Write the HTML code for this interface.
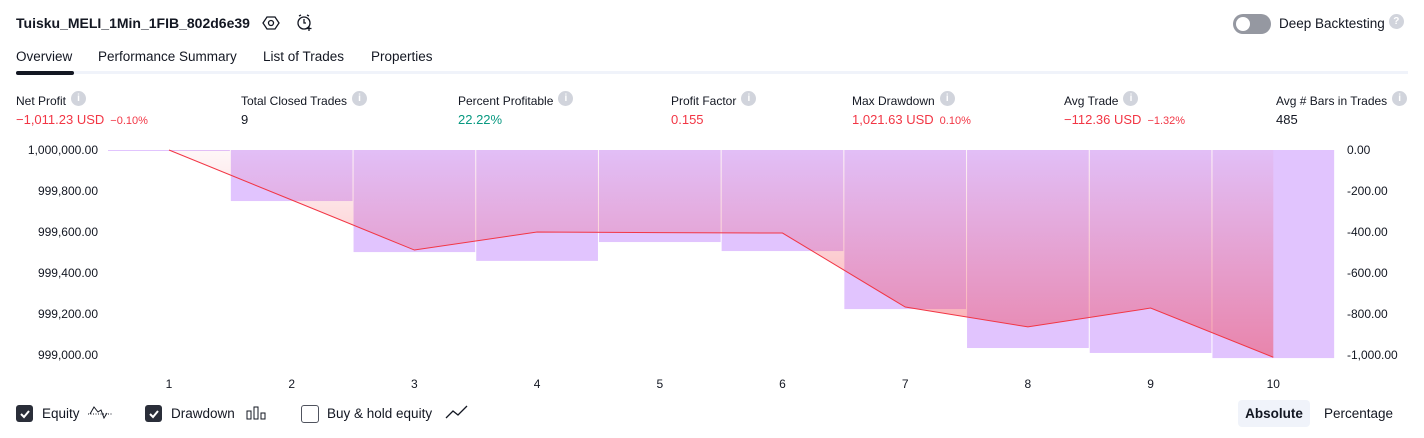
<!DOCTYPE html>
<html><head><meta charset="utf-8">
<style>
body{margin:0;width:1424px;height:438px;background:#fff;font-family:"Liberation Sans",sans-serif;color:#131722;position:relative;overflow:hidden}
.abs{position:absolute;white-space:nowrap}
.info{display:inline-block;width:15px;height:15px;border-radius:50%;background:#d1d4dc;color:#fff;font-size:10px;text-align:center;line-height:15px;font-weight:bold;vertical-align:1px;margin-left:5px;position:relative;top:-3px}
.lbl{font-size:12px;color:#131722}
.val{font-size:13px}
.red{color:#f23645}.grn{color:#089981}
.sm{font-size:11px;margin-left:6px}
.tab{font-size:13.5px;top:49px}
.cb{position:absolute;width:17px;height:17px;border-radius:3px;top:405px}
.cb.on{background:#2a2e39}
.cb.off{border:1.5px solid #50535e;box-sizing:border-box;width:18px;height:18px}
.ax{font-size:12px;font-family:"Liberation Sans",sans-serif}
</style></head><body>
<div class="abs" style="left:16px;top:15px;font-size:14px;font-weight:bold">Tuisku_MELI_1Min_1FIB_802d6e39</div>
<svg class="abs" style="left:262px;top:14px" width="18" height="18" viewBox="0 0 18 18"><path d="M5 3h8l4 6-4 6H5L1 9z" fill="none" stroke="#131722" stroke-width="1.3"/><circle cx="9" cy="9" r="2.5" fill="none" stroke="#131722" stroke-width="1.3"/></svg>
<svg class="abs" style="left:296px;top:13px" width="18" height="20" viewBox="0 0 18 20"><circle cx="8" cy="10" r="6" fill="none" stroke="#131722" stroke-width="1.3"/><path d="M8 6v4h2M3 3l2-1M13 3l-2-1M13 13v5M10.5 15.5h5" stroke="#131722" stroke-width="1.3" fill="none"/></svg>
<div class="abs" style="left:1233px;top:14px;width:38px;height:20px;border-radius:10px;background:#9598a1"><div style="position:absolute;left:3px;top:3px;width:14px;height:14px;border-radius:50%;background:#fff"></div></div>
<div class="abs" style="left:1279px;top:16px;font-size:13.5px">Deep Backtesting<span class="info" style="margin-left:4px">?</span></div>

<div class="abs tab" style="left:16px">Overview</div>
<div class="abs tab" style="left:98px">Performance Summary</div>
<div class="abs tab" style="left:263px">List of Trades</div>
<div class="abs tab" style="left:371px">Properties</div>
<div class="abs" style="left:16px;top:71px;width:1392px;height:3px;background:#f0f3fa"></div>
<div class="abs" style="left:16px;top:71px;width:58px;height:4px;border-radius:2px;background:#131722"></div>

<div class="abs" style="left:16px;top:94px"><div class="lbl">Net Profit<span class="info">i</span></div><div class="val red" style="margin-top:3px">−1,011.23 USD<span class="sm">−0.10%</span></div></div>
<div class="abs" style="left:241px;top:94px"><div class="lbl">Total Closed Trades<span class="info">i</span></div><div class="val" style="margin-top:3px">9</div></div>
<div class="abs" style="left:458px;top:94px"><div class="lbl">Percent Profitable<span class="info">i</span></div><div class="val grn" style="margin-top:3px">22.22%</div></div>
<div class="abs" style="left:671px;top:94px"><div class="lbl">Profit Factor<span class="info">i</span></div><div class="val red" style="margin-top:3px">0.155</div></div>
<div class="abs" style="left:852px;top:94px"><div class="lbl">Max Drawdown<span class="info">i</span></div><div class="val red" style="margin-top:3px">1,021.63 USD<span class="sm">0.10%</span></div></div>
<div class="abs" style="left:1064px;top:94px"><div class="lbl">Avg Trade<span class="info">i</span></div><div class="val red" style="margin-top:3px">−112.36 USD<span class="sm">−1.32%</span></div></div>
<div class="abs" style="left:1276px;top:94px"><div class="lbl">Avg # Bars in Trades<span class="info">i</span></div><div class="val" style="margin-top:3px">485</div></div>

<svg class="abs" id="chart" style="left:0;top:140px" width="1424" height="255"></svg>

<div class="cb on" style="left:16px"><svg width="17" height="17"><path d="M5 9l3 3 5-6" stroke="#fff" stroke-width="2" fill="none"/></svg></div>
<div class="abs" style="left:42px;top:406px;font-size:13.5px">Equity</div>
<svg class="abs" style="left:87px;top:404px" width="26" height="18"><path d="M1 10h24" stroke="#131722" stroke-dasharray="1 1.5"/><path d="M3 10l4-7 4 5 3-2 3 8 3-5" stroke="#131722" fill="none"/></svg>
<div class="cb on" style="left:145px"><svg width="17" height="17"><path d="M5 9l3 3 5-6" stroke="#fff" stroke-width="2" fill="none"/></svg></div>
<div class="abs" style="left:171px;top:406px;font-size:13.5px">Drawdown</div>
<svg class="abs" style="left:246px;top:405px" width="20" height="16"><rect x="1" y="6" width="4" height="8" fill="none" stroke="#131722"/><rect x="8" y="2" width="4" height="12" fill="none" stroke="#131722"/><rect x="15" y="8" width="4" height="6" fill="none" stroke="#131722"/></svg>
<div class="cb off" style="left:301px"></div>
<div class="abs" style="left:327px;top:406px;font-size:13.5px">Buy &amp; hold equity</div>
<svg class="abs" style="left:445px;top:404px" width="24" height="16"><path d="M1 14l7-7 5 4 9-9" stroke="#131722" stroke-width="1.3" fill="none"/></svg>
<div class="abs" style="left:1238px;top:400px;width:72px;height:27px;background:#f0f3fa;border-radius:4px;font-size:13.5px;font-weight:bold;line-height:27px;text-align:center">Absolute</div>
<div class="abs" style="left:1324px;top:406px;font-size:13.5px">Percentage</div>

<script>
const categories = ["1","2","3","4","5","6","7","8","9","10"];
const equity = [1000000, 999756, 999512, 999600, 999597, 999595, 999234, 999137, 999229, 998989];
const drawdown = [0, -249, -498, -541, -449, -493, -776, -966, -990, -1015];
const leftTicks = [1000000, 999800, 999600, 999400, 999200, 999000];
const rightTicks = [0, -200, -400, -600, -800, -1000];

const svg = document.getElementById('chart');
const NS = 'http://www.w3.org/2000/svg';
const X0 = 169, DX = 122.7, TOP = 10, PPU = 0.205;
function xs(i){ return X0 + i*DX; }
function yEq(v){ return TOP + (1000000 - v)*PPU; }
function yDd(v){ return TOP + (0 - v)*PPU; }
function mk(tag, attrs){ const e=document.createElementNS(NS,tag); for(const k in attrs) e.setAttribute(k,attrs[k]); svg.appendChild(e); return e; }

const defs = mk('defs',{});
defs.innerHTML = '<linearGradient id="eqg" x1="0" y1="0" x2="0" y2="1"><stop offset="0" stop-color="#f23645" stop-opacity="0.04"/><stop offset="1" stop-color="#f23645" stop-opacity="0.45"/></linearGradient>';
document.querySelector('#eqg').setAttribute('gradientUnits','userSpaceOnUse');
document.querySelector('#eqg').setAttribute('y1', TOP);
document.querySelector('#eqg').setAttribute('y2', TOP+210);

drawdown.forEach((v,i)=>{
  const x1 = i===0 ? 108 : xs(i)-DX/2+0.5;
  const x2 = xs(i)+DX/2-0.5;
  const h = Math.max(1, yDd(v)-TOP);
  const r = mk('rect',{x:x1,y:TOP,width:x2-x1,height:h,fill:'#e1c4fe'});
  
  
});

let d = 'M'+xs(0)+','+TOP;
equity.forEach((v,i)=>{ d += ' L'+xs(i)+','+yEq(v); });
const area = mk('path',{d:d+' L'+xs(equity.length-1)+','+TOP+' Z',fill:'url(#eqg)'});


let ld = '';
equity.forEach((v,i)=>{ ld += (i?' L':'M')+xs(i)+','+yEq(v); });
const line = mk('path',{d:ld,fill:'none',stroke:'#f23645','stroke-width':1});



leftTicks.forEach(v=>{
  const t = mk('text',{x:98,y:yEq(v)+4,'text-anchor':'end',class:'ax',fill:'#131722'});
  t.textContent = v.toLocaleString('en-US',{minimumFractionDigits:2});
  
  
});
rightTicks.forEach(v=>{
  const t = mk('text',{x:1347,y:yDd(v)+4,class:'ax',fill:'#131722'});
  t.textContent = v.toLocaleString('en-US',{minimumFractionDigits:2});
  
  
});
categories.forEach((c,i)=>{
  const t = mk('text',{x:xs(i),y:248,'text-anchor':'middle',class:'ax',fill:'#131722'});
  t.textContent = c;
  
  
});
</script>
</body></html>
